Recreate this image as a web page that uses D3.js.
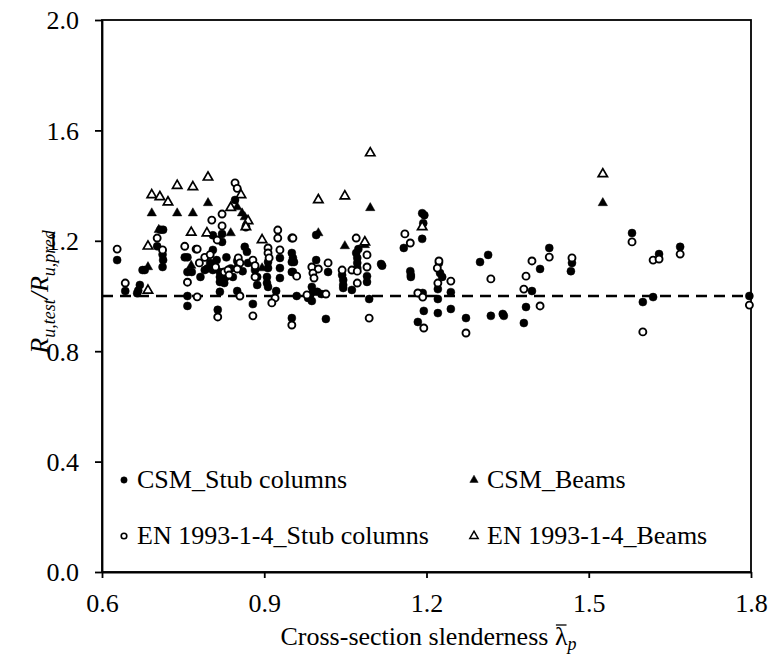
<!DOCTYPE html>
<html>
<head>
<meta charset="utf-8">
<script src="https://cdn.jsdelivr.net/npm/d3@7"></script>
<style>
  body { margin: 0; background: #fff; }
  svg text { font-family: "Liberation Serif", "Tinos", "Times New Roman", Times, "DejaVu Serif", serif; }
</style>
</head>
<body>
<div id="chart"></div>
<script>
// [slenderness, Ru,test/Ru,pred]
const csmStub = [
  [0.628,1.13],[0.643,1.018],[0.665,1.01],[0.667,1.02],[0.670,1.04],[0.675,1.094],[0.679,1.094],[0.712,1.105],[0.713,1.13],[0.712,1.15],[0.702,1.18],[0.708,1.24],[0.713,1.24],
  [0.753,1.14],[0.758,1.14],[0.758,1.087],[0.766,1.087],[0.758,1.0],[0.758,0.964],
  [0.782,1.069],[0.790,1.094],[0.795,1.10],[0.805,1.094],[0.805,1.22],[0.805,1.167],[0.822,1.225],[0.822,1.196],[0.846,1.348],
  [0.818,1.015],[0.850,1.018],[0.814,0.95],[0.879,0.971],
  [0.864,1.178],[0.868,1.16],[0.850,1.127],[0.852,1.11],[0.883,1.094],[0.887,1.069],[0.887,1.04],[0.842,1.069],
  [0.818,1.087],[0.818,1.069],[0.818,1.051],[0.829,1.069],[0.826,1.047],
  [0.800,1.12],[0.812,1.13],[0.830,1.14],[0.838,1.10],[0.860,1.09],[0.870,1.12],
  [0.907,1.123],[0.907,1.101],[0.905,1.069],[0.905,1.047],[0.907,1.033],[0.922,1.018],
  [0.929,1.138],[0.929,1.101],[0.929,1.065],[0.951,1.156],[0.951,1.123],[0.951,1.087],[0.951,0.92],
  [0.953,1.138],[0.955,1.123],[0.953,1.087],[0.960,1.0],
  [0.996,1.221],[0.996,1.13],[0.988,1.033],[0.99,1.015],[0.985,1.004],[0.981,0.993],[0.998,1.015],[0.988,0.982],[1.006,1.007],[1.018,1.087],[1.014,0.917],
  [1.044,1.076],[1.046,1.058],[1.046,1.04],[1.046,1.029],[1.062,1.022],
  [1.07,1.156],[1.072,1.138],[1.072,1.12],[1.072,1.101],[1.074,1.17],[1.09,1.072],[1.09,1.051],[1.094,0.989],[1.116,1.116],[1.118,1.11],
  [1.158,1.174],[1.17,1.09],[1.171,1.076],[1.171,1.069],[1.192,1.30],[1.196,1.293],[1.194,1.264],[1.192,1.207],
  [1.223,1.12],[1.225,1.083],[1.229,1.069],[1.221,1.025],[1.193,1.011],[1.221,0.989],[1.195,0.946],[1.221,0.938],[1.245,1.014],[1.245,0.953],[1.184,0.906],[1.273,0.92],
  [1.299,1.123],[1.314,1.149],[1.319,0.928],[1.341,0.935],[1.343,0.928],[1.395,1.018],[1.384,0.96],[1.38,0.902],[1.41,1.098],[1.427,1.174],[1.467,1.09],[1.469,1.12],
  [1.58,1.228],[1.60,0.978],[1.619,0.996],[1.63,1.152],[1.669,1.178],[1.797,1.0]
];
const csmBeams = [
  [0.685,1.105],[0.692,1.30],[0.705,1.24],[0.739,1.30],[0.768,1.30],[0.765,1.11],[0.796,1.337],[0.850,1.322],
  [0.859,1.30],[0.864,1.286],[0.838,1.228],[0.896,1.101],[1.0,1.228],[1.049,1.181],[1.086,1.185],[1.096,1.319],[1.526,1.337]
];
const enStub = [
  [0.628,1.17],[0.643,1.047],[0.712,1.167],[0.702,1.21],[0.753,1.18],[0.774,1.17],[0.758,1.05],[0.776,0.997],
  [0.846,1.41],[0.850,1.39],[0.866,1.25],[0.822,1.297],[0.803,1.275],[0.822,1.254],[0.813,1.203],[0.776,1.17],
  [0.852,1.138],[0.855,1.12],[0.879,1.13],[0.883,1.11],[0.883,1.069],[0.850,1.098],[0.826,1.087],[0.833,1.094],[0.835,1.076],
  [0.79,1.14],[0.80,1.15],[0.81,1.105],[0.78,1.12],
  [0.814,0.924],[0.879,0.928],[0.855,1.0],
  [0.907,1.174],[0.907,1.156],[0.909,1.138],[0.92,0.993],[0.914,0.975],[0.925,1.239],[0.925,1.21],[0.929,1.167],[0.951,1.21],[0.951,0.895],
  [0.953,1.21],[0.960,1.072],[0.988,1.105],[1.0,1.098],[0.99,1.083],[0.992,1.065],[0.979,1.004],[1.014,1.007],[1.018,1.12],
  [1.044,1.094],[1.062,1.094],[1.072,1.09],[1.07,1.21],[1.09,1.149],[1.09,1.105],[1.072,1.047],[1.094,0.92],
  [1.16,1.225],[1.17,1.192],[1.223,1.127],[1.22,1.101],[1.221,1.047],[1.245,1.054],[1.184,1.011],[1.193,0.996],[1.195,0.884],[1.273,0.866],
  [1.319,1.062],[1.384,1.072],[1.395,1.127],[1.38,1.025],[1.41,0.964],[1.427,1.141],[1.469,1.138],
  [1.58,1.196],[1.60,0.87],[1.619,1.13],[1.63,1.134],[1.669,1.152],[1.797,0.967]
];
const enBeams = [
  [0.685,1.02],[0.685,1.18],[0.692,1.366],[0.707,1.359],[0.722,1.34],[0.739,1.40],[0.768,1.395],[0.765,1.23],
  [0.796,1.43],[0.794,1.228],[0.838,1.32],[0.857,1.366],[0.870,1.272],[0.866,1.25],[0.896,1.203],[1.0,1.348],
  [1.049,1.362],[1.086,1.195],[1.096,1.518],[1.192,1.25],[1.526,1.442]
];
const xTicks = [0.6, 0.9, 1.2, 1.5, 1.8];
const yTicks = [0.0, 0.4, 0.8, 1.2, 1.6, 2.0];
const seriesNames = ["CSM_Stub columns", "CSM_Beams", "EN 1993-1-4_Stub columns", "EN 1993-1-4_Beams"];

const serif = '"Liberation Serif", "Tinos", "Times New Roman", Times, "DejaVu Serif", serif';
const width = 770, height = 657;
const mLeft = 102, mRight = 751, mTop = 20, mBottom = 572;

const svg = d3.select("#chart").append("svg")
    .attr("width", width)
    .attr("height", height)
    .attr("font-family", serif);

const x = d3.scaleLinear().domain([0.6, 1.8]).range([mLeft, mRight]);
const y = d3.scaleLinear().domain([0, 2]).range([mBottom, mTop]);

// frame
svg.append("rect")
    .attr("x", mLeft).attr("y", mTop)
    .attr("width", mRight - mLeft).attr("height", mBottom - mTop)
    .attr("fill", "none").attr("stroke", "#000").attr("stroke-width", 1.8);

const xAxis = svg.append("g")
    .attr("transform", "translate(0," + mBottom + ")")
    .call(d3.axisBottom(x).tickValues(xTicks).tickFormat(d3.format(".1f")).tickSize(6).tickSizeOuter(0).tickPadding(16));
const yAxis = svg.append("g")
    .attr("transform", "translate(" + mLeft + ",0)")
    .call(d3.axisLeft(y).tickValues(yTicks).tickFormat(d3.format(".1f")).tickSize(7).tickSizeOuter(0).tickPadding(16));

[xAxis, yAxis].forEach(g => {
    g.attr("font-family", serif).attr("font-size", 26);
    g.select(".domain").attr("stroke", "#000").attr("stroke-width", 1.8);
    g.selectAll(".tick line").attr("stroke", "#000").attr("stroke-width", 1.8);
    g.selectAll(".tick text").attr("fill", "#000");
});
yAxis.selectAll(".tick text").attr("dy", "0.34em");

// reference line at 1.0
svg.append("line")
    .attr("x1", x(0.6)).attr("x2", x(1.8))
    .attr("y1", y(1)).attr("y2", y(1))
    .attr("stroke", "#000").attr("stroke-width", 2.6)
    .attr("stroke-dasharray", "11,7");

const tri = d3.symbol().type(d3.symbolTriangle).size(38);

function circles(data, fill) {
    svg.append("g").selectAll("circle")
        .data(data).enter().append("circle")
        .attr("cx", d => x(d[0]))
        .attr("cy", d => y(d[1]))
        .attr("r", fill ? 4 : 3.5)
        .attr("fill", fill ? "#000" : "#fff")
        .attr("stroke", "#000")
        .attr("stroke-width", fill ? 0.5 : 1.9);
}
function triangles(data, fill) {
    svg.append("g").selectAll("path")
        .data(data).enter().append("path")
        .attr("d", tri)
        .attr("transform", d => "translate(" + x(d[0]) + "," + y(d[1]) + ")")
        .attr("fill", fill ? "#000" : "#fff")
        .attr("stroke", "#000")
        .attr("stroke-width", fill ? 0.5 : 1.7);
}
circles(csmStub, true);
triangles(csmBeams, true);
circles(enStub, false);
triangles(enBeams, false);

// legend
const legend = [
    {name: seriesNames[0], shape: "circle", fill: true, lx: 124, ly: 480},
    {name: seriesNames[1], shape: "tri", fill: true, lx: 474, ly: 480},
    {name: seriesNames[2], shape: "circle", fill: false, lx: 124, ly: 536},
    {name: seriesNames[3], shape: "tri", fill: false, lx: 474, ly: 536}
];
legend.forEach(l => {
    if (l.shape === "circle") {
        svg.append("circle").attr("cx", l.lx).attr("cy", l.ly).attr("r", l.fill ? 3.2 : 2.8)
            .attr("fill", l.fill ? "#000" : "#fff").attr("stroke", "#000").attr("stroke-width", l.fill ? 0.5 : 1.6);
    } else {
        svg.append("path").attr("d", d3.symbol().type(d3.symbolTriangle).size(30)())
            .attr("transform", "translate(" + l.lx + "," + l.ly + ")")
            .attr("fill", l.fill ? "#000" : "#fff").attr("stroke", "#000").attr("stroke-width", l.fill ? 0.5 : 1.5);
    }
    svg.append("text")
        .attr("x", l.lx + 13).attr("y", l.ly + 8)
        .attr("font-size", 26)
        .text(l.name);
});

// axis titles
const xt = svg.append("text")
    .attr("x", (mLeft + mRight) / 2 + 2).attr("y", 645)
    .attr("text-anchor", "middle")
    .attr("font-size", 26);
xt.append("tspan").text("Cross-section slenderness ");
xt.append("tspan").text("\u03BB");
xt.append("tspan").attr("dy", 5).attr("font-size", 18).attr("font-style", "italic").text("p");
// bar over lambda
const lamIdx = "Cross-section slenderness ".length;
const p0 = xt.node().getStartPositionOfChar(lamIdx);
const p1 = xt.node().getEndPositionOfChar(lamIdx);
svg.append("line")
    .attr("x1", p0.x + 1).attr("x2", p1.x - 1)
    .attr("y1", p0.y - 20).attr("y2", p0.y - 20)
    .attr("stroke", "#000").attr("stroke-width", 1.3);

const yt = svg.append("text")
    .attr("transform", "translate(48," + ((mTop + mBottom) / 2 - 4) + ") rotate(-90)")
    .attr("text-anchor", "middle")
    .attr("font-size", 26)
    .attr("font-style", "italic");
yt.append("tspan").text("R");
yt.append("tspan").attr("dy", 7).attr("font-size", 18).text("u,test");
yt.append("tspan").attr("dy", -7).text("/R");
yt.append("tspan").attr("dy", 7).attr("font-size", 18).text("u,pred");
</script>
</body>
</html>
